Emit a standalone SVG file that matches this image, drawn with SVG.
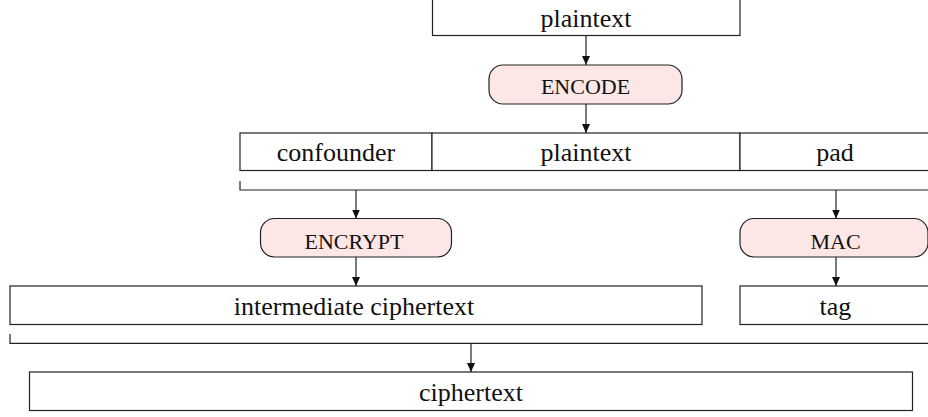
<svg xmlns="http://www.w3.org/2000/svg" width="928" height="417" viewBox="0 0 928 417">
<defs>
<marker id="ah" markerUnits="userSpaceOnUse" markerWidth="10" markerHeight="10" viewBox="0 0 10 10" refX="9" refY="5" orient="auto">
<path d="M0,1 L9,5 L0,9 Z" fill="#111"/>
</marker>
<style>
.box{fill:#fff;stroke:#222;stroke-width:1.2}
.op{fill:#fde6e6;stroke:#222;stroke-width:1.2}
.t{font-family:"Liberation Serif","Times New Roman",serif;font-size:26px;fill:#111;text-anchor:middle}
.o{font-family:"Liberation Serif","Times New Roman",serif;font-size:22px;fill:#111;text-anchor:middle}
.c{fill:none;stroke:#222;stroke-width:1.2}
</style>
</defs>
<rect width="928" height="417" fill="#fff"/>
<g id="plaintext-top"><rect class="box" x="432.5" y="-3" width="307.5" height="38.5"/><text class="t" x="586" y="27">plaintext</text></g>
<g id="encode"><rect class="op" x="489" y="65" width="193" height="39" rx="14"/><text class="o" x="585.5" y="94">ENCODE</text></g>
<g id="confounder"><rect class="box" x="240" y="133" width="192" height="37.5"/><text class="t" x="336" y="160.5">confounder</text></g>
<g id="plaintext-mid"><rect class="box" x="432" y="133" width="308" height="37.5"/><text class="t" x="586" y="160.5">plaintext</text></g>
<g id="pad"><rect class="box" x="740" y="133" width="192" height="37.5"/><text class="t" x="835" y="160.5">pad</text></g>
<g id="encrypt"><rect class="op" x="260.5" y="218.5" width="191" height="38.5" rx="14"/><text class="o" x="354" y="248.5">ENCRYPT</text></g>
<g id="mac"><rect class="op" x="740" y="218.5" width="188" height="38.5" rx="14"/><text class="o" x="835.5" y="248.5">MAC</text></g>
<g id="intermediate"><rect class="box" x="10" y="286" width="692" height="38.5"/><text class="t" x="354" y="314.5">intermediate ciphertext</text></g>
<g id="tag"><rect class="box" x="740" y="286" width="192" height="38.5"/><text class="t" x="835.5" y="314.5">tag</text></g>
<g id="ciphertext"><rect class="box" x="29.5" y="372" width="883" height="38.5"/><text class="t" x="471" y="401">ciphertext</text></g>
<g id="connectors">
<path class="c" d="M240,181 V190 H932"/>
<path class="c" d="M10,334 V343.3 H932"/>
<line class="c" x1="586" y1="35.5" x2="586" y2="65" marker-end="url(#ah)"/>
<line class="c" x1="586" y1="104" x2="586" y2="133" marker-end="url(#ah)"/>
<line class="c" x1="356" y1="190" x2="356" y2="218.5" marker-end="url(#ah)"/>
<line class="c" x1="836" y1="190" x2="836" y2="218.5" marker-end="url(#ah)"/>
<line class="c" x1="356" y1="257" x2="356" y2="286" marker-end="url(#ah)"/>
<line class="c" x1="836" y1="257" x2="836" y2="286" marker-end="url(#ah)"/>
<line class="c" x1="471" y1="343.3" x2="471" y2="372" marker-end="url(#ah)"/>
</g>
</svg>
